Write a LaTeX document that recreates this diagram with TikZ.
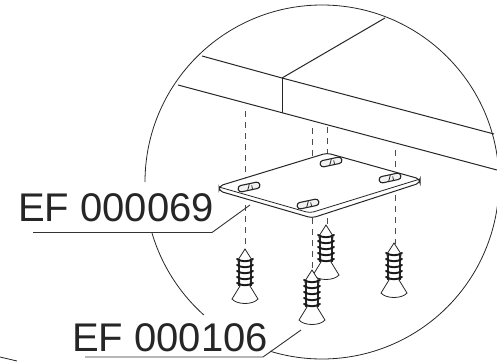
\documentclass[tikz,border=0pt]{standalone}
\usepackage{fontspec}
\setmainfont{Liberation Sans}
\tikzset{
  edgeline/.style={line width=1pt,black!85},
  thinline/.style={line width=0.8pt,black!85},
  axisline/.style={line width=0.8pt,black!70,dash pattern=on 6pt off 5pt},
  leader/.style={line width=0.9pt,black!80},
  partlabel/.style={inner sep=0pt,anchor=base west,text=black!85,font=\fontsize{40}{40}\selectfont},
  pics/screwpart/.style={code={
    \draw[thinline,fill=white] (0,0) -- (-7,11) -- (-5,37) -- (-13,50)
      .. controls (-8,56) and (8,56) .. (13,50) -- (5,37) -- (7,11) -- cycle;
    \draw[line width=1.2pt,black!85] (-6,12) -- (-6,37) (6,12) -- (6,37);
    \foreach \ty in {10,16,22,28,34}
      \draw[line width=1.9pt,black!90,line cap=round] (-8,\ty) .. controls (-3,\ty+3) and (3,\ty+3) .. (8,\ty);
  }},
  pics/slotpart/.style={code={
    \begin{scope}[rotate=12]
      \draw[line width=1.1pt,black!85,fill=black!5,rounded corners=3pt] (-11,-3.2) rectangle (11,3.2);
      \draw[thinline] (-2,3) -- (1,-3) (3,3) -- (3,-1);
    \end{scope}
  }}
}
\begin{document}
\begin{tikzpicture}[x=1pt,y=-1pt]
  \useasboundingbox (0,0) rectangle (497,361);
  \draw[thinline] (145,182) arc [start angle=180,end angle=467,radius=177];
  \draw[thinline] (152,233) arc [start angle=163.6,end angle=131.8,radius=177];
  \draw[thinline] (0,357) -- (17,361);

  % beam
  \draw[edgeline] (202,56) -- (282,78) -- (494,134);
  \draw[edgeline] (178,85) -- (497,170);
  \draw[edgeline] (282,78) -- (385,18);
  \draw[edgeline] (282,78) -- (282,113);

  % screw axes
  \draw[axisline] (245,111) -- (245,186);
  \draw[axisline] (245,205) -- (245,250);
  \draw[axisline] (312,128) -- (312,203);
  \draw[axisline] (312,218) -- (312,271);
  \draw[axisline] (327,127) -- (327,160);
  \draw[axisline] (327,218) -- (327,226);
  \draw[axisline] (395,150) -- (395,176);
  \draw[axisline] (395,184) -- (395,244);

  % plate
  \draw[edgeline,fill=white,rounded corners=4pt] (219,186) -- (327,153) -- (420,179) -- (420,183)
    -- (312,218) -- (219,191) -- cycle;
  \draw[thinline,rounded corners=4pt] (219,187) -- (310,213) -- (420,179);
  \pic at (249,187) {slotpart};
  \pic at (331,162) {slotpart};
  \pic at (390,178) {slotpart};
  \pic at (308,204) {slotpart};

  % screws
  \pic at (326,225) {screwpart};
  \pic at (245,249) {screwpart};
  \pic at (394,243) {screwpart};
  \pic at (312,270) {screwpart};

  % labels
  \node[partlabel] (lab69) at (18,221) {EF 000069};
  \node[partlabel] (lab106) at (72,351) {EF 000106};
  \coordinate (lab69a) at (33,232.5);
  \coordinate (lab69b) at (212,232.5);
  \coordinate (lab69c) at (250,205);
  \coordinate (lab106a) at (85,357);
  \coordinate (lab106b) at (263,357);
  \coordinate (lab106c) at (301,330);
  \draw[leader] (lab69a) -- (lab69b) -- (lab69c);
  \draw[leader] (lab106a) -- (lab106b) -- (lab106c);
\end{tikzpicture}
\end{document}
